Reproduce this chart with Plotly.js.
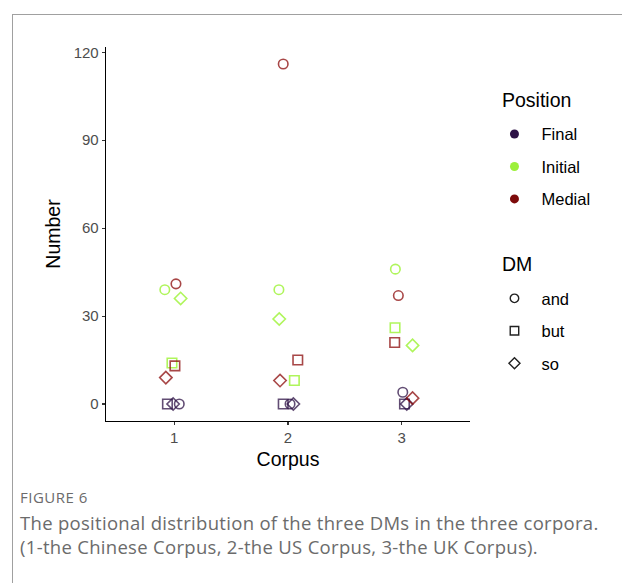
<!DOCTYPE html>
<html>
<head>
<meta charset="utf-8">
<script src="https://cdn.plot.ly/plotly-3.0.1.min.js"></script>
<style>
  html, body { margin: 0; padding: 0; background: #fff; }
  #wrap { position: relative; width: 622px; height: 583px; overflow: hidden; }
  #plot { position: absolute; left: 0; top: 0; width: 622px; height: 583px; }
  .frameTop { position: absolute; left: 12px; top: 14px; width: 620px; height: 0; border-top: 1px solid #a0a0a0; }
  .frameLeft { position: absolute; left: 12px; top: 14px; width: 0; height: 580px; border-left: 1px solid #a0a0a0; }
  #cap { position: absolute; left: 20px; top: 487px; font-family: "Open Sans", sans-serif; color: #6b6b6b; }
  #cap .fig { font-size: 15px; letter-spacing: 0.5px; line-height: 20px; margin-bottom: 4px; }
  #cap .txt { font-size: 18.5px; letter-spacing: 0.3px; line-height: 24px; }
</style>
</head>
<body>
<div id="wrap">
  <div id="plot"></div>
  <div class="frameTop"></div>
  <div class="frameLeft"></div>
  <div id="cap">
    <div class="fig">FIGURE 6</div>
    <div class="txt">The positional distribution of the three DMs in the three corpora.<br>(1-the Chinese Corpus, 2-the US Corpus, 3-the UK Corpus).</div>
  </div>
</div>
<script>
// Categories
const positions = ["Final", "Initial", "Medial"];
const dms = ["and", "but", "so"];
const corpusTicks = [1, 2, 3];
const numberTicks = [0, 30, 60, 90, 120];

// Values (Number) per corpus 1,2,3
const finalAnd = [0, 0, 4];
const finalBut = [0, 0, 0];
const finalSo = [0, 0, 0];
const initialAnd = [39, 39, 46];
const initialBut = [14, 8, 26];
const initialSo = [36, 29, 20];
const medialAnd = [41, 116, 37];
const medialBut = [13, 15, 21];
const medialSo = [9, 8, 2];

// Jittered corpus positions as drawn
const finalAndX = [1.044, 2.018, 3.009];
const finalButX = [0.94, 1.958, 3.024];
const finalSoX = [0.99, 2.047, 3.044];
const initialAndX = [0.917, 1.92, 2.944];
const initialButX = [0.98, 2.056, 2.941];
const initialSoX = [1.056, 1.923, 3.095];
const medialAndX = [1.015, 1.958, 2.97];
const medialButX = [1.006, 2.086, 2.938];
const medialSoX = [0.926, 1.93, 3.095];

const posColor = { Final: "rgba(45,18,70,0.75)", Initial: "rgba(155,242,50,0.8)", Medial: "rgba(139,10,10,0.75)" };
const legColor = { Final: "#2d1246", Initial: "#9cf03a", Medial: "#7d0a0a" };
const dmSymbol = { and: "circle-open", but: "square-open", so: "diamond-open" };

const series = [
  ["Final", "and", finalAndX, finalAnd],
  ["Final", "but", finalButX, finalBut],
  ["Final", "so", finalSoX, finalSo],
  ["Initial", "and", initialAndX, initialAnd],
  ["Initial", "but", initialButX, initialBut],
  ["Initial", "so", initialSoX, initialSo],
  ["Medial", "and", medialAndX, medialAnd],
  ["Medial", "but", medialButX, medialBut],
  ["Medial", "so", medialSoX, medialSo]
];

const traces = series.map(([p, d, xs, ys]) => ({
  type: "scatter", mode: "markers", x: xs, y: ys,
  showlegend: false, hoverinfo: "skip",
  marker: { symbol: dmSymbol[d], size: 9.5, color: posColor[p], line: { width: 1.6, color: posColor[p] } }
}));

positions.forEach((p, i) => traces.push({
  type: "scatter", mode: "markers", x: [null], y: [null], name: p,
  legend: "legend", legendgroup: "p" + i, showlegend: true,
  marker: { symbol: "circle", size: 9, color: legColor[p] }
}));
dms.forEach((d, i) => traces.push({
  type: "scatter", mode: "markers", x: [null], y: [null], name: d,
  legend: "legend2", legendgroup: "d" + i, showlegend: true,
  marker: { symbol: dmSymbol[d], size: 8.5, color: "#222", line: { width: 1.4, color: "#222" } }
}));

const fam = "Liberation Sans";

const legendCommon = {
  xanchor: "left", yanchor: "top", bgcolor: "rgba(0,0,0,0)",
  font: { family: fam, size: 16.5, color: "#000" },
  itemwidth: 44, tracegroupgap: 8, traceorder: "grouped"
};

const layout = {
  width: 622, height: 583,
  margin: { l: 106, r: 152, t: 47, b: 162 },
  paper_bgcolor: "rgba(0,0,0,0)", plot_bgcolor: "rgba(0,0,0,0)",
  font: { family: fam, color: "#000" },
  showlegend: true,
  xaxis: {
    range: [0.4, 3.6], tickvals: corpusTicks, ticktext: corpusTicks.map(String),
    showgrid: false, zeroline: false, showline: true, linecolor: "#000", linewidth: 1.3,
    ticks: "outside", ticklen: 3, tickwidth: 1.1, tickcolor: "#333",
    tickfont: { size: 15, color: "#4d4d4d", family: fam },
    title: { text: "Corpus", font: { size: 19.5, color: "#000", family: fam }, standoff: 7 }
  },
  yaxis: {
    range: [-5.8, 121.8], tickvals: numberTicks, ticktext: numberTicks.map(String),
    showgrid: false, zeroline: false, showline: true, linecolor: "#000", linewidth: 1.3,
    ticks: "outside", ticklen: 3, tickwidth: 1.1, tickcolor: "#333",
    tickfont: { size: 15, color: "#4d4d4d", family: fam },
    title: { text: "Number", font: { size: 19.5, color: "#000", family: fam }, standoff: 7 }
  },
  legend: Object.assign({}, legendCommon, { x: 1.048, y: 0.8134 }),
  legend2: Object.assign({}, legendCommon, { x: 1.048, y: 0.374 }),
  annotations: [
    { text: "Position", xref: "paper", yref: "paper", x: (500 - 106) / 364, y: (421 - 100) / 374,
      xanchor: "left", yanchor: "middle", showarrow: false, font: { size: 19.5, color: "#000", family: fam } },
    { text: "DM", xref: "paper", yref: "paper", x: (500 - 106) / 364, y: (421 - 264) / 374,
      xanchor: "left", yanchor: "middle", showarrow: false, font: { size: 19.5, color: "#000", family: fam } }
  ]
};

Plotly.newPlot("plot", traces, layout, { displayModeBar: false, staticPlot: true });
</script>
</body>
</html>
